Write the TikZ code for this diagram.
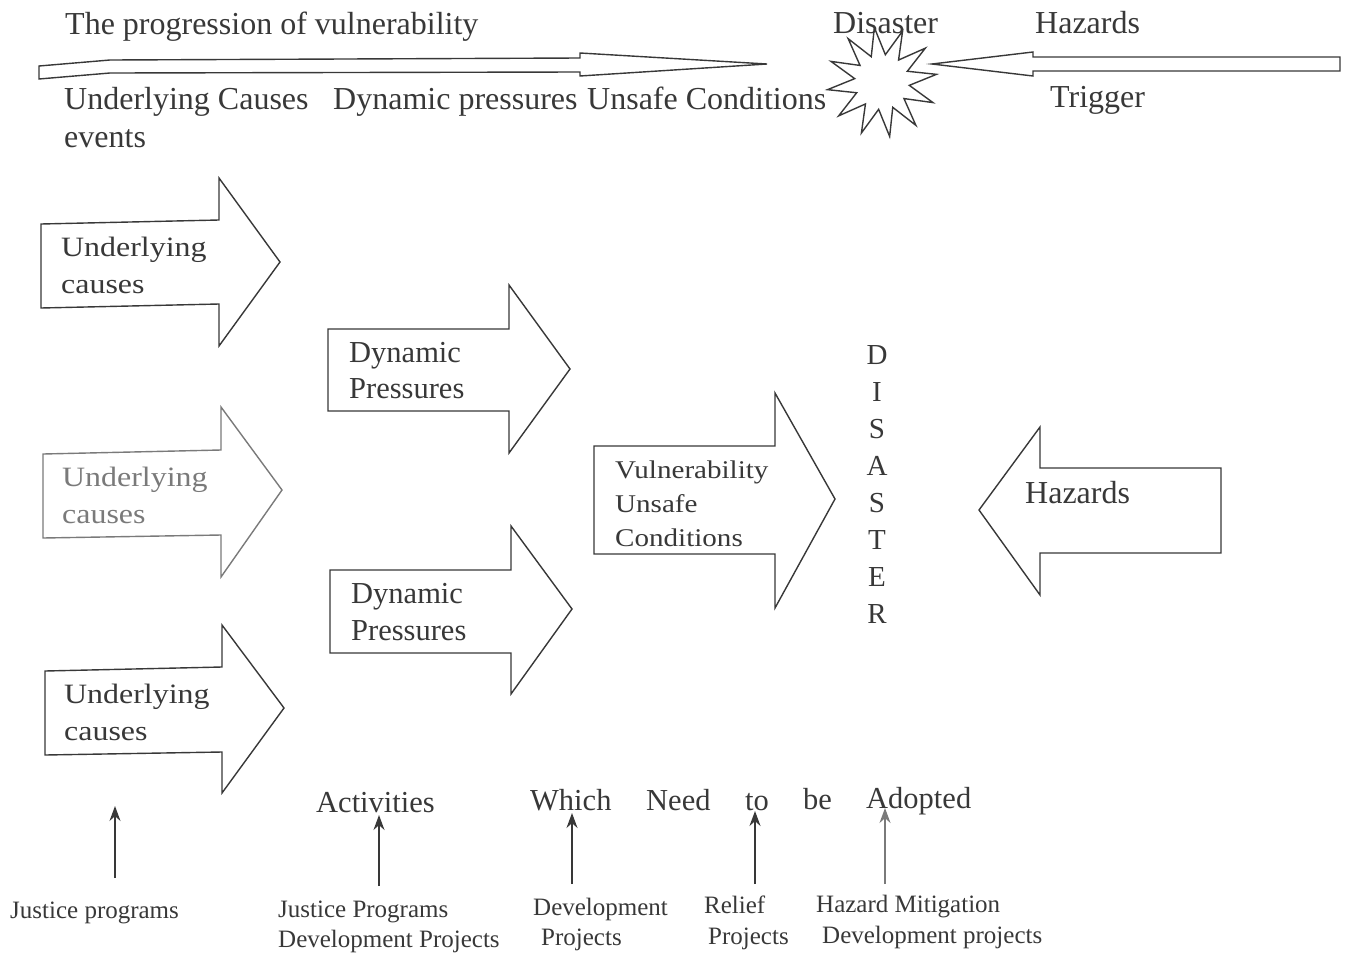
\documentclass[tikz,border=0pt]{standalone}
\usepackage{fontspec}
\setmainfont{Liberation Serif}
\newfontfamily\widefont[FakeStretch=1.14]{Liberation Serif}
\usetikzlibrary{shapes.geometric,arrows.meta}
\definecolor{ink}{HTML}{383838}
\definecolor{pale}{HTML}{7A7A7A}
\tikzset{
  txt/.style={inner sep=0pt, anchor=base west, text=ink},
  big/.style={txt, font=\fontsize{32}{36}\selectfont},
  mid/.style={txt, font=\fontsize{30.5}{34}\selectfont},
  boxt/.style={txt, font=\widefont\fontsize{28}{34}\selectfont},
  vbox/.style={txt, font=\widefont\fontsize{25.5}{30}\selectfont},
  small/.style={txt, font=\fontsize{25}{28}\selectfont},
  blk/.style={draw=ink, line width=1.4pt, line join=miter, fill=white},
  up/.style={draw=ink, line width=1.4pt, -{Stealth[length=15pt,width=11pt]}},
  letter/.style={inner sep=0pt, anchor=center, text=ink, font=\fontsize{29}{34}\selectfont}
}
\begin{document}
\begin{tikzpicture}[x=1pt,y=-1pt]
\useasboundingbox (0,0) rectangle (1352,956);
% top row
\node[big] (prog) at (65,34) {The progression of vulnerability};
\draw[blk] (39,66) -- (110,60) -- (580,58) -- (580,53) -- (767,64) -- (580,76) -- (580,72) -- (110,73) -- (39,79) -- cycle;
\node[big] (uc) at (64,109) {Underlying Causes};
\node[big] (dp) at (333,109) {Dynamic pressures};
\node[big] (us) at (587,109) {Unsafe Conditions};
\node[big] (ev) at (64,147) {events};
\node[big] (dis) at (833,33) {Disaster};
\node[draw=ink, line width=1.4pt, star, star points=12, star point ratio=2.0, minimum size=110pt, inner sep=0pt, rotate=8] (star) at (882,82) {};
\draw[blk] (932,64) -- (1033,52) -- (1033,57) -- (1340,57) -- (1340,71) -- (1033,71) -- (1033,76) -- cycle;
\node[big] (haz) at (1035,33) {Hazards};
\node[big] (trig) at (1050,107) {Trigger};
% underlying causes arrows
\draw[blk] (41,224) -- (219,220) -- (219,178) -- (280,262) -- (219,346) -- (219,304) -- (41,308) -- cycle;
\node[boxt] (u1a) at (61,256) {Underlying};
\node[boxt] (u1b) at (61,293) {causes};
\draw[blk, draw=pale] (43,454) -- (221,450) -- (221,407) -- (282,490) -- (221,577) -- (221,535) -- (43,538) -- cycle;
\node[boxt, text=pale] (u2a) at (62,486) {Underlying};
\node[boxt, text=pale] (u2b) at (62,523) {causes};
\draw[blk] (45,671) -- (222,667) -- (222,625) -- (284,708) -- (222,793) -- (222,752) -- (45,755) -- cycle;
\node[boxt] (u3a) at (64,703) {Underlying};
\node[boxt] (u3b) at (64,740) {causes};
% dynamic pressures
\draw[blk] (328,329) -- (509,329) -- (509,285) -- (570,369) -- (509,453) -- (509,411) -- (328,411) -- cycle;
\node[mid] (d1a) at (349,362) {Dynamic};
\node[mid] (d1b) at (349,398) {Pressures};
\draw[blk] (330,570) -- (511,570) -- (511,526) -- (572,609) -- (511,694) -- (511,653) -- (330,653) -- cycle;
\node[mid] (d2a) at (351,603) {Dynamic};
\node[mid] (d2b) at (351,640) {Pressures};
% vulnerability
\draw[blk] (594,446) -- (775,446) -- (775,393) -- (835,499) -- (775,608) -- (775,554) -- (594,554) -- cycle;
\node[vbox] (v1) at (615,478) {Vulnerability};
\node[vbox] (v2) at (615,512) {Unsafe};
\node[vbox] (v3) at (615,546) {Conditions};
% DISASTER
\foreach \l [count=\i] in {D,I,S,A,S,T,E,R}
  \node[letter] (L\i) at (877,318+37*\i) {\l};
% hazards
\draw[blk] (979,510) -- (1040,427) -- (1040,468) -- (1221,468) -- (1221,553) -- (1040,553) -- (1040,595) -- cycle;
\node[big] (hz) at (1025,503) {Hazards};
% bottom sentence
\node[mid] (act) at (316,812) {Activities};
\node[mid] (wh) at (530,810) {Which};
\node[mid] (nd) at (646,810) {Need};
\node[mid] (to) at (745,810) {to};
\node[mid] (be) at (803,809) {be};
\node[mid] (ad) at (866,808) {Adopted};
% bottom labels
\node[small] (jp) at (10,918) {Justice programs};
\node[small] (jp2) at (278,917) {Justice Programs};
\node[small] (dp2) at (278,947) {Development Projects};
\node[small] (dv) at (533,915) {Development};
\node[small] (pj) at (541,945) {Projects};
\node[small] (rl) at (704,913) {Relief};
\node[small] (rp) at (708,944) {Projects};
\node[small] (hm) at (816,912) {Hazard Mitigation};
\node[small] (dvp) at (822,943) {Development projects};
% arrows
\coordinate (a1s) at (115,878); \coordinate (a1e) at (115,806);
\coordinate (a2s) at (379,886); \coordinate (a2e) at (379,815);
\coordinate (a3s) at (572,884); \coordinate (a3e) at (572,813);
\coordinate (a4s) at (755,884); \coordinate (a4e) at (755,811);
\coordinate (a5s) at (885,884); \coordinate (a5e) at (885,808);
\draw[up] (a1s) -- (a1e);
\draw[up] (a2s) -- (a2e);
\draw[up] (a3s) -- (a3e);
\draw[up] (a4s) -- (a4e);
\draw[up, draw=pale] (a5s) -- (a5e);
\end{tikzpicture}
\end{document}
